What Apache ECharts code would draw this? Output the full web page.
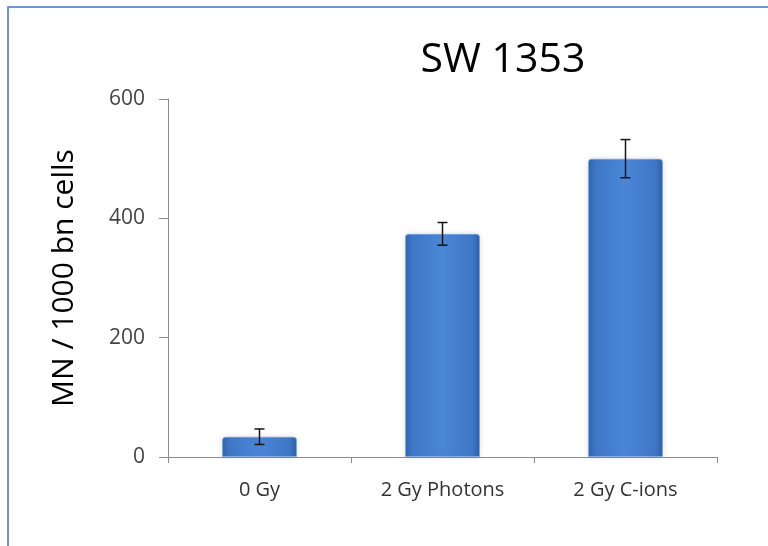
<!DOCTYPE html>
<html>
<head>
<meta charset="utf-8">
<script src="https://cdn.jsdelivr.net/npm/echarts@6/dist/echarts.min.js"></script>
<style>
  html, body { margin: 0; padding: 0; background: #fff; }
  #chart { width: 768px; height: 546px; }
</style>
</head>
<body>
<div id="chart"></div>
<script>
// Micronuclei per 1000 binucleated cells, SW 1353 cell line
const categories = ['0 Gy', '2 Gy Photons', '2 Gy C-ions'];
const meanValues = [34, 374, 500];
const errorValues = [13, 19, 32];
const yTicks = { min: 0, max: 600, interval: 200 };

const FONT = '"Open Sans", "Noto Sans", sans-serif';

const chart = echarts.init(document.getElementById('chart'), null, { renderer: 'canvas' });

const barGradient = new echarts.graphic.LinearGradient(0, 0, 1, 0, [
  { offset: 0, color: '#3364ac' },
  { offset: 0.1, color: '#3f77c6' },
  { offset: 0.5, color: '#4b86d6' },
  { offset: 0.9, color: '#3f77c6' },
  { offset: 1, color: '#305fa3' }
]);

const errorData = meanValues.map((v, i) => [i, v - errorValues[i], v + errorValues[i]]);

chart.setOption({
  animation: false,
  backgroundColor: '#ffffff',
  title: {
    text: 'SW 1353',
    left: 498,
    top: 35,
    textAlign: 'center',
    textStyle: { fontFamily: FONT, fontSize: 41, fontWeight: 'normal', color: '#000' }
  },
  graphic: [{
    type: 'rect',
    shape: { x: 8, y: 7, width: 900, height: 700 },
    style: { fill: 'none', stroke: '#6f98d0', lineWidth: 2 },
    silent: true,
    z: 100
  }],
  grid: { left: 168, right: 51, top: 99, bottom: 89 },
  xAxis: {
    type: 'category',
    data: categories,
    axisLine: { lineStyle: { color: '#8c8c8c', width: 1 } },
    axisTick: { show: true, length: 6, lineStyle: { color: '#8c8c8c' } },
    axisLabel: { fontFamily: FONT, fontSize: 20, color: '#333', margin: 23 }
  },
  yAxis: {
    type: 'value',
    min: yTicks.min,
    max: yTicks.max,
    interval: yTicks.interval,
    name: 'MN / 1000 bn cells',
    nameLocation: 'middle',
    nameRotate: 90,
    nameGap: 89,
    nameTextStyle: { fontFamily: FONT, fontSize: 30, color: '#000' },
    axisLine: { show: true, lineStyle: { color: '#8c8c8c', width: 1 } },
    axisTick: { show: true, length: 9, lineStyle: { color: '#8c8c8c' } },
    splitLine: { show: false },
    axisLabel: { fontFamily: FONT, fontSize: 21, color: '#444', margin: 23 }
  },
  series: [
    {
      type: 'bar',
      data: meanValues,
      barWidth: 75,
      itemStyle: {
        color: barGradient,
        borderRadius: [3, 3, 0, 0],
        borderColor: 'rgba(120,165,230,0.6)',
        borderWidth: 1,
        shadowColor: 'rgba(0,0,0,0.12)',
        shadowBlur: 6
      }
    },
    {
      type: 'custom',
      data: errorData,
      z: 10,
      renderItem: function (params, api) {
        const x = api.coord([api.value(0), 0])[0];
        const lo = api.coord([api.value(0), api.value(1)])[1];
        const hi = api.coord([api.value(0), api.value(2)])[1];
        const half = 5;
        const style = { stroke: '#151515', lineWidth: 1.5 };
        return {
          type: 'group',
          children: [
            { type: 'line', shape: { x1: x, y1: lo, x2: x, y2: hi }, style: style },
            { type: 'line', shape: { x1: x - half, y1: lo, x2: x + half, y2: lo }, style: style },
            { type: 'line', shape: { x1: x - half, y1: hi, x2: x + half, y2: hi }, style: style }
          ]
        };
      }
    }
  ]
});
</script>
</body>
</html>
